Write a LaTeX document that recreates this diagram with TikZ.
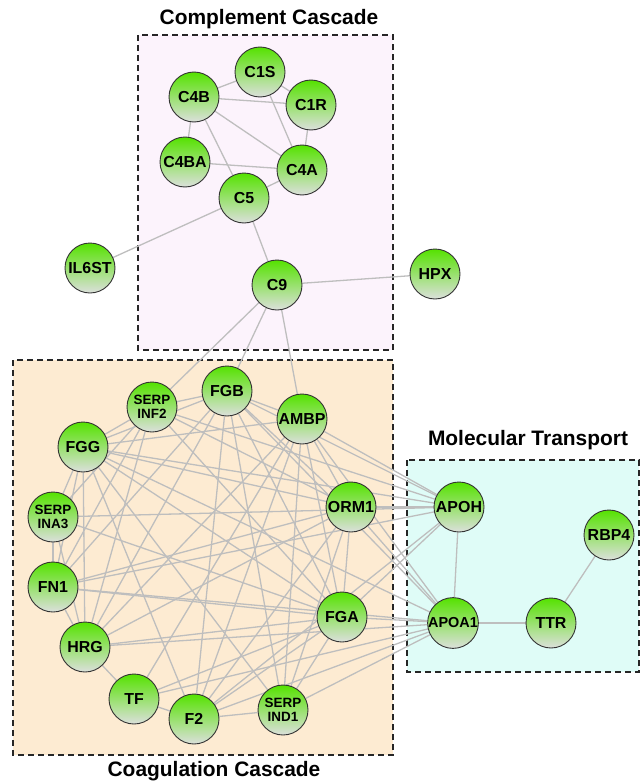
\documentclass[tikz,border=0pt]{standalone}
\usepackage{fontspec}
\setmainfont{Liberation Sans}
\pgfdeclarelayer{boxes}
\pgfdeclarelayer{lines}
\pgfsetlayers{boxes,lines,main}

\definecolor{compfill}{RGB}{252,243,252}
\definecolor{coagfill}{RGB}{253,235,210}
\definecolor{transfill}{RGB}{223,252,247}
\definecolor{protgreen}{RGB}{85,226,0}
\definecolor{protgray}{RGB}{220,224,220}
\definecolor{linkgray}{RGB}{190,190,190}

\begin{document}
\begin{tikzpicture}[x=1bp,y=-1bp]
	\tikzset{
	% protein nodes
	prot/.style={
		circle,
		draw=black!80, line width=0.9bp,
		top color=protgreen,
		bottom color=protgray,
		minimum size=50bp,
		inner sep=0pt,
		font=\fontsize{16}{17}\selectfont\bfseries},
	protsmall/.style={
		prot,
		align=center,
		font=\fontsize{13.5}{14.5}\selectfont\bfseries},
	% interactions
	link/.style={draw=linkgray, line width=1.3bp},
	% dashed pathway boxes
	pathway/.style={draw=black!85, line width=1.4bp, dash pattern=on 6bp off 4bp},
	heading/.style={font=\fontsize{21}{22}\selectfont\bfseries}
}
	\useasboundingbox (0,0) rectangle (641,784);

	%pathway boxes
	\begin{pgfonlayer}{boxes}
	\draw[pathway,fill=compfill] (138,35) rectangle (393,350);
	\draw[pathway,fill=coagfill] (13,360) rectangle (393,755);
	\draw[pathway,fill=transfill] (407,460) rectangle (639,672);
	\end{pgfonlayer}
	\node[heading] at (269,19) (comp) {Complement Cascade};
	\node[heading] at (214,771) (coag) {Coagulation Cascade};
	\node[heading] at (528,440) (trans) {Molecular Transport};

	%complement cascade
	\node[prot] at (260,72) (C1S) {C1S};
	\node[prot] at (194,97) (C4B) {C4B};
	\node[prot] at (311,105) (C1R) {C1R};
	\node[prot] at (185,162) (C4BA) {C4BA};
	\node[prot] at (302,170) (C4A) {C4A};
	\node[prot] at (244,198) (C5) {C5};
	\node[prot] at (277,285) (C9) {C9};
	%outside
	\node[prot] at (90,268) (IL6ST) {IL6ST};
	\node[prot] at (435,274) (HPX) {HPX};

	%coagulation cascade
	\node[prot] at (227,391) (FGB) {FGB};
	\node[protsmall] at (152,407) (SERPINF2) {SERP\\INF2};
	\node[prot] at (302,419) (AMBP) {AMBP};
	\node[prot] at (83,447) (FGG) {FGG};
	\node[prot] at (351,507) (ORM1) {ORM1};
	\node[protsmall] at (53,517) (SERPINA3) {SERP\\INA3};
	\node[prot] at (53,587) (FN1) {FN1};
	\node[prot] at (342,617) (FGA) {FGA};
	\node[prot] at (85,647) (HRG) {HRG};
	\node[prot] at (134,699) (TF) {TF};
	\node[prot] at (194,719) (F2) {F2};
	\node[protsmall] at (283,710) (SERPIND1) {SERP\\IND1};

	%molecular transport
	\node[prot] at (459,507) (APOH) {APOH};
	\node[prot,font=\fontsize{14.5}{15}\selectfont\bfseries] at (453,623) (APOA1) {APOA1};
	\node[prot] at (551,623) (TTR) {TTR};
	\node[prot] at (609,535) (RBP4) {RBP4};

	\begin{pgfonlayer}{lines}
	%complement links
	\foreach \a/\b in {C4B/C1S,C4B/C1R,C1S/C1R,C1S/C4A,C1R/C4A,C4B/C4A,C4B/C4BA,
		C4B/C5,C4BA/C4A,C4A/C5,C5/IL6ST,C5/C9,C9/HPX,C9/SERPINF2,C9/FGB,C9/AMBP}
		\draw[link] (\a) -- (\b);
	%coagulation links
	\foreach \a/\b in {FGB/SERPINF2,FGB/AMBP,FGB/FGG,FGB/FN1,FGB/HRG,FGB/F2,FGB/SERPIND1,
		FGB/ORM1,FGB/FGA,FGB/APOH,FGB/APOA1,
		SERPINF2/FGG,SERPINF2/SERPINA3,SERPINF2/FN1,SERPINF2/HRG,SERPINF2/ORM1,
		SERPINF2/APOH,SERPINF2/FGA,
		AMBP/FGG,AMBP/HRG,AMBP/TF,AMBP/F2,AMBP/SERPIND1,AMBP/ORM1,AMBP/FGA,
		AMBP/APOH,AMBP/APOA1,
		FGG/SERPINA3,FGG/FN1,FGG/HRG,FGG/ORM1,FGG/FGA,FGG/SERPIND1,FGG/F2,
		FGG/APOH,FGG/APOA1,
		SERPINA3/FN1,SERPINA3/APOH,SERPINA3/FGA,SERPINA3/HRG,
		FN1/HRG,FN1/ORM1,FN1/FGA,FN1/APOH,FN1/APOA1,
		HRG/TF,HRG/ORM1,HRG/FGA,HRG/APOA1,
		TF/F2,TF/FGA,TF/APOA1,
		F2/SERPIND1,F2/ORM1,F2/FGA,F2/APOH,F2/APOA1,
		SERPIND1/ORM1,SERPIND1/FGA,SERPIND1/APOA1,
		ORM1/FGA,ORM1/APOH,ORM1/APOA1,
		FGA/APOH,FGA/APOA1}
		\draw[link] (\a) -- (\b);
	%transport links
	\draw[link] (APOH) -- (APOA1);
	\draw[link] (APOA1) -- (TTR);
	\draw[link] (TTR) -- (RBP4);
	\end{pgfonlayer}
\end{tikzpicture}
\end{document}
